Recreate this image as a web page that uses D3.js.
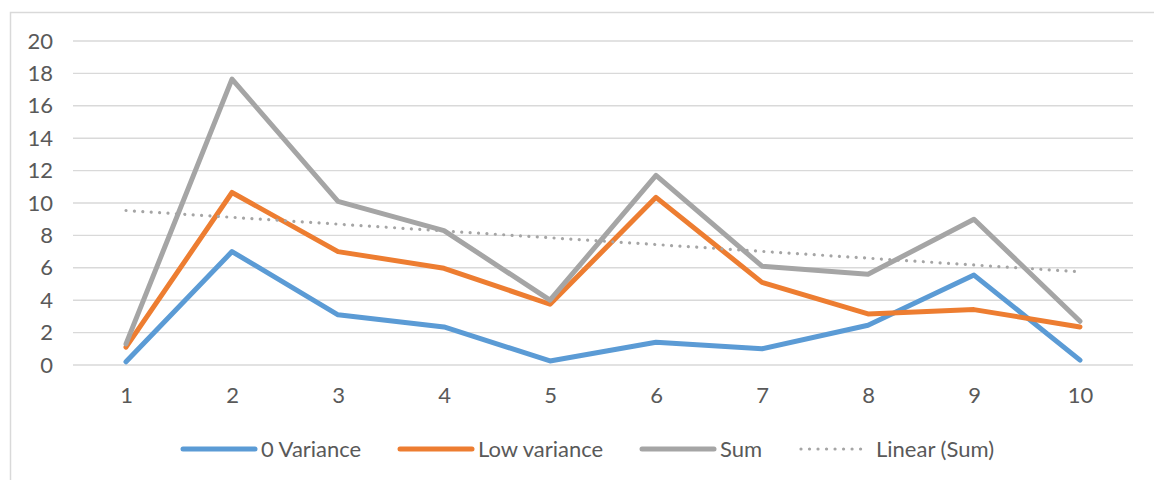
<!DOCTYPE html>
<html>
<head>
<meta charset="utf-8">
<script src="https://cdn.jsdelivr.net/npm/d3@7"></script>
<style>
  html, body { margin: 0; padding: 0; background: #fff; }
  svg { display: block; }
  text { font-family: Lato, "Open Sans", sans-serif; fill: #595959; }
</style>
</head>
<body>
<svg id="chart" width="1154" height="480"></svg>
<script>
const categories = ["1","2","3","4","5","6","7","8","9","10"];
const zeroVariance = [0.2, 7.0, 3.1, 2.35, 0.25, 1.4, 1.0, 2.45, 5.55, 0.3];
const lowVariance  = [1.1, 10.65, 7.0, 5.97, 3.75, 10.35, 5.1, 3.15, 3.42, 2.35];
const sumValues    = [1.3, 17.65, 10.1, 8.3, 4.0, 11.7, 6.1, 5.6, 9.0, 2.7];
const yTicks = [0, 2, 4, 6, 8, 10, 12, 14, 16, 18, 20];
const seriesNames = ["0 Variance", "Low variance", "Sum", "Linear (Sum)"];
const colors = ["#5B9BD5", "#ED7D31", "#A5A5A5", "#A5A5A5"];

const FS = 22;
const svg = d3.select("#chart");
const plot = { left: 73, right: 1133, top: 41, bottom: 365 };

// chart border
svg.append("rect").attr("x", 10.5).attr("y", 12.5).attr("width", 1160).attr("height", 500)
  .attr("fill", "none").attr("stroke", "#D9D9D9").attr("stroke-width", 1.5);

const x = d3.scalePoint().domain(categories).range([plot.left, plot.right]).padding(0.5);
const y = d3.scaleLinear().domain([0, 20]).range([plot.bottom, plot.top]);

// gridlines
svg.append("g").selectAll("line").data(yTicks).join("line")
  .attr("x1", plot.left).attr("x2", plot.right)
  .attr("y1", d => y(d)).attr("y2", d => y(d))
  .attr("stroke", "#D9D9D9").attr("stroke-width", 1.4);

// y axis labels
const yAxis = d3.axisLeft(y).tickValues(yTicks).tickSize(0).tickPadding(0);
const gy = svg.append("g").attr("transform", `translate(53,0)`).call(yAxis);
gy.select(".domain").remove();
gy.selectAll("text").attr("font-size", FS).attr("fill", "#595959")
  .style("font-family", "Lato, sans-serif");

// x axis labels
const xAxis = d3.axisBottom(x).tickSize(0).tickPadding(0);
const gx = svg.append("g").attr("transform", `translate(0,${plot.bottom})`).call(xAxis);
gx.select(".domain").remove();
gx.selectAll("text").attr("font-size", FS).attr("fill", "#595959").attr("dy", 0).attr("y", 37.5)
  .style("font-family", "Lato, sans-serif");

// lines
const line = d3.line().x((d, i) => x(categories[i])).y(d => y(d));
[zeroVariance, lowVariance, sumValues].forEach((s, k) => {
  svg.append("path").datum(s).attr("d", line)
    .attr("fill", "none").attr("stroke", colors[k]).attr("stroke-width", 5)
    .attr("stroke-linecap", "round").attr("stroke-linejoin", "round");
});

// linear trendline of Sum (least squares)
const xs = categories.map((c, i) => i + 1);
const mx = d3.mean(xs), my = d3.mean(sumValues);
const slope = d3.sum(xs, (xv, i) => (xv - mx) * (sumValues[i] - my)) / d3.sum(xs, xv => (xv - mx) ** 2);
const intercept = my - slope * mx;
const trend = [xs[0], xs[xs.length - 1]].map(xv => ({ c: String(xv), v: intercept + slope * xv }));
svg.append("path").datum(trend)
  .attr("d", d3.line().x(d => x(d.c)).y(d => y(d.v)))
  .attr("fill", "none").attr("stroke", colors[3]).attr("stroke-width", 3.2)
  .attr("stroke-linecap", "round").attr("stroke-dasharray", "0.01 8.4");

// legend
const legendStarts = [183, 400, 642, 798];
const lg = svg.append("g");
seriesNames.forEach((name, k) => {
  const g = lg.append("g").attr("transform", `translate(${legendStarts[k]},449)`);
  const l = g.append("line").attr("x1", 0).attr("x2", 72).attr("y1", 0).attr("y2", 0)
    .attr("stroke", colors[k]).attr("stroke-linecap", "round");
  if (k === 3) l.attr("stroke-width", 3.2).attr("stroke-dasharray", "0.01 8.5").attr("x1", 3).attr("x2", 70);
  else l.attr("stroke-width", 5);
  g.append("text").attr("x", 78).attr("y", 8).attr("font-size", FS).text(name);
});
</script>
</body>
</html>
